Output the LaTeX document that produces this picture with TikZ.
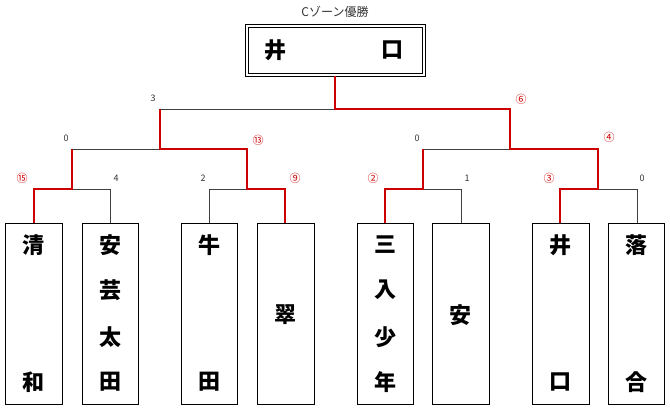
\documentclass[tikz,border=0pt]{standalone}
\usepackage{fontspec}
\setmainfont{Noto Sans CJK JP}
\begin{document}
\begin{tikzpicture}[x=1pt,y=-1pt,
  box/.style={draw,line width=0.8pt},
  blk/.style={draw=black!75,line width=0.8pt},
  red/.style={draw=red!80!black,line width=2pt},
  sc/.style={font=\fontsize{9}{9}\selectfont,text=black!80},
  rc/.style={font=\fontsize{11}{11}\selectfont,text=red!80!black},
  nm/.style={font=\fontsize{22}{22}\selectfont\bfseries}]
\useasboundingbox (0,0) rectangle (670,409);
% boxes
\foreach \n/\a/\b in {b1/5/62,b2/82/138,b3/181/237,b4/257/314,b5/357/413,b6/432/489,b7/532/589,b8/608/664}
  \draw[box] (\a,223) rectangle (\b,404) node[pos=0.5,coordinate] (\n) {};
% champion
\draw[line width=0.7pt] (245,24) rectangle (425,76);
\draw[line width=0.7pt] (248,27) rectangle (422,73);
\node[font=\fontsize{12}{12}\selectfont,text=black!80] (title) at (335,12) {Cゾーン優勝};
\node[nm] (c1) at (275,50) {井};
\node[nm] (c2) at (392,50) {口};
% names
\node[nm] (n1a) at (34,245) {清}; \node[nm] (n1b) at (34,382) {和};
\node[nm] (n2a) at (110,245) {安}; \node[nm] (n2b) at (110,290) {芸};
\node[nm] (n2c) at (110,337) {太}; \node[nm] (n2d) at (110,382) {田};
\node[nm] (n3a) at (209,245) {牛}; \node[nm] (n3b) at (209,382) {田};
\node[nm] (n4) at (285,315) {翠};
\node[nm] (n5a) at (385,245) {三}; \node[nm] (n5b) at (385,290) {入};
\node[nm] (n5c) at (385,337) {少}; \node[nm] (n5d) at (385,382) {年};
\node[nm] (n6) at (460,315) {安};
\node[nm] (n7a) at (560,245) {井}; \node[nm] (n7b) at (560,382) {口};
\node[nm] (n8a) at (636,245) {落}; \node[nm] (n8b) at (636,382) {合};
% black lines
\draw[blk] (110,223) -- (110,189) -- (72,189);
\draw[blk] (209,223) -- (209,189) -- (247,189);
\draw[blk] (72,149) -- (160,149);
\draw[blk] (160,109) -- (335,109);
\draw[blk] (461,223) -- (461,189) -- (423,189);
\draw[blk] (637,223) -- (637,189) -- (598,189);
\draw[blk] (423,149) -- (510,149);
% red lines
\draw[red] (34,223) -- (34,189) -- (72,189) -- (72,149);
\draw[red] (285,223) -- (285,189) -- (247,189) -- (247,149) -- (160,149) -- (160,109);
\draw[red] (335,76) -- (335,109) -- (510,109) -- (510,149) -- (598,149) -- (598,189) -- (560,189) -- (560,223);
\draw[red] (385,223) -- (385,189) -- (423,189) -- (423,149);
% scores
\node[sc] (s1) at (153,98) {3};
\node[sc] (s2) at (66,138) {0};
\node[sc] (s3) at (116,178) {4};
\node[sc] (s4) at (203,178) {2};
\node[sc] (s5) at (417,138) {0};
\node[sc] (s6) at (467,178) {1};
\node[sc] (s7) at (642,178) {0};
\node[rc] (r1) at (22,178) {⑮};
\node[rc] (r2) at (258,140) {⑬};
\node[rc] (r3) at (295,178) {⑨};
\node[rc] (r4) at (521,99) {⑥};
\node[rc] (r5) at (609,137) {④};
\node[rc] (r6) at (373,178) {②};
\node[rc] (r7) at (549,178) {③};
\end{tikzpicture}
\end{document}
